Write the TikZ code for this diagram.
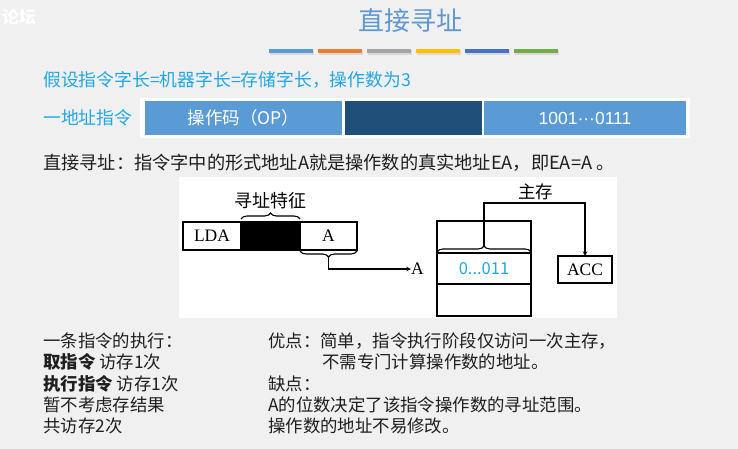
\documentclass[tikz,border=0pt]{standalone}
\usepackage{fontspec}
\setmainfont{Liberation Serif}
\newfontfamily\cjk{Noto Sans CJK SC}
\newfontfamily\digits{Liberation Sans}
\usepackage{tikz}
\usetikzlibrary{arrows,positioning,decorations.pathreplacing}
\definecolor{bggray}{HTML}{F0F0F0}
\definecolor{skyblue}{HTML}{22A7E3}
\definecolor{titleblue}{HTML}{5F97D0}
\definecolor{cellblue}{HTML}{5B9BD5}
\definecolor{cellnavy}{HTML}{1F4E79}
\definecolor{inkgray}{HTML}{1E1E1E}

\begin{document}
\begin{tikzpicture}[x=1pt, y=-1pt,
  txt/.style={anchor=west, inner sep=0pt, text=inkgray, font=\cjk\fontsize{17.4}{17.4}\selectfont},
  hint/.style={anchor=west, inner sep=0pt, text=skyblue, font=\cjk\fontsize{17.8}{17.8}\selectfont},
  field/.style={fill=cellblue, minimum height=34pt, inner sep=0pt, text=white, font=\cjk\fontsize{17.5}{17.5}\selectfont},
  cell/.style={draw, line width=1.1pt, outer sep=0pt, minimum height=28pt, inner sep=0pt, font=\fontsize{17.5}{17.5}\selectfont},
  brace/.style={decorate, decoration={brace, amplitude=6pt}, line width=1.1pt},
  link/.style={draw, line width=1.1pt, ->, >=stealth}
]
\useasboundingbox (0,0) rectangle (738,449);
\fill[bggray] (0,0) rectangle (738,449);
\node[anchor=west, inner sep=0pt, text=white, font=\cjk\bfseries\fontsize{17}{17}\selectfont] (mark) at (2,17) {论坛};

\node[text=titleblue, font=\cjk\fontsize{26}{26}\selectfont] (title) at (410,21) {直接寻址};
\foreach \c [count=\i] in {5B9BD5,ED7D31,A5A5A5,FFC000,4472C4,70AD47}{
  \definecolor{barcolor}{HTML}{\c}
  \fill[black!15] ({270+49*(\i-1)},50.5) rectangle ++(44,4.5);
  \fill[barcolor] ({269+49*(\i-1)},49) rectangle ++(44,4.5);
}

\node[hint] (assume) at (43,80) {假设指令字长=机器字长=存储字长，操作数为3};
\node[hint] (rowlabel) at (43,117.5) {一地址指令};
\fill[white] (140,98) rectangle (690,138);
\node[field, minimum width=197pt] (opbox) at (243.5,118) {操作码（OP）};
\node[field, fill=cellnavy, minimum width=137pt] (modebox) at (413.5,118) {};
\node[field, minimum width=202pt, font=\digits\fontsize{17.5}{17.5}\selectfont] (addrbox) at (585,118) {1001···0111};
\node[txt, font=\cjk\fontsize{18.2}{18.2}\selectfont] (define) at (43,163) {直接寻址：指令字中的形式地址A就是操作数的真实地址EA，即EA=A 。};

\fill[white] (179,177) rectangle (617,318);
\node[cell, minimum width=58pt] (lda) at (212,236) {LDA};
\node[cell, fill=black, minimum width=59pt, right=0pt of lda] (mode) {};
\node[cell, minimum width=57pt, right=0pt of mode] (acell) {A};
\draw[brace] ([yshift=3pt]mode.north west) -- ([yshift=3pt]mode.north east);
\node[font=\cjk\fontsize{18}{18}\selectfont, inner sep=0pt] (modelabel) at (270,201) {寻址特征};
\draw[brace] ([yshift=-1pt]acell.south east) -- ([yshift=-1pt]acell.south west);
\coordinate (atip) at ([yshift=-7pt]acell.south);
\node[inner sep=0pt, font=\fontsize{17.5}{17.5}\selectfont] (alabel) at (417.5,269) {A};
\draw[link] (atip) |- (alabel.west);

\node[cell, minimum width=94pt, minimum height=32pt] (memtop) at (484,237) {};
\node[cell, minimum width=94pt, minimum height=31pt, below=0pt of memtop, text=skyblue, font=\cjk\fontsize{16.5}{16.5}\selectfont] (memcell) {0...011};
\node[cell, minimum width=94pt, minimum height=32pt, below=0pt of memcell] (membot) {};
\draw[brace] ([yshift=1pt]memcell.north west) -- ([yshift=1pt]memcell.north east);
\coordinate (mtip) at ([yshift=7pt]memcell.north);
\node[font=\cjk\fontsize{17.5}{17.5}\selectfont, inner sep=0pt] (memlabel) at (535.5,192) {主存};
\node[cell, minimum width=54pt, minimum height=27pt] (acc) at (585,269.5) {ACC};
\coordinate (turn) at (0,203);
\draw[link] (mtip) -- (mtip |- turn) -| (acc);

\node[txt] (step1) at (43,341) {一条指令的执行：};
\node[txt] (step2) at (43,362) {{\bfseries 取指令} 访存1次};
\node[txt] (step3) at (43,384) {{\bfseries 执行指令} 访存1次};
\node[txt] (step4) at (43,405) {暂不考虑存结果};
\node[txt] (step5) at (43,426) {共访存2次};
\node[txt] (pro1) at (268,341) {优点：简单，指令执行阶段仅访问一次主存，};
\node[txt] (pro2) at (322,362) {不需专门计算操作数的地址。};
\node[txt] (con0) at (268,384) {缺点：};
\node[txt] (con1) at (268,405) {A的位数决定了该指令操作数的寻址范围。};
\node[txt] (con2) at (268,426) {操作数的地址不易修改。};
\end{tikzpicture}
\end{document}
